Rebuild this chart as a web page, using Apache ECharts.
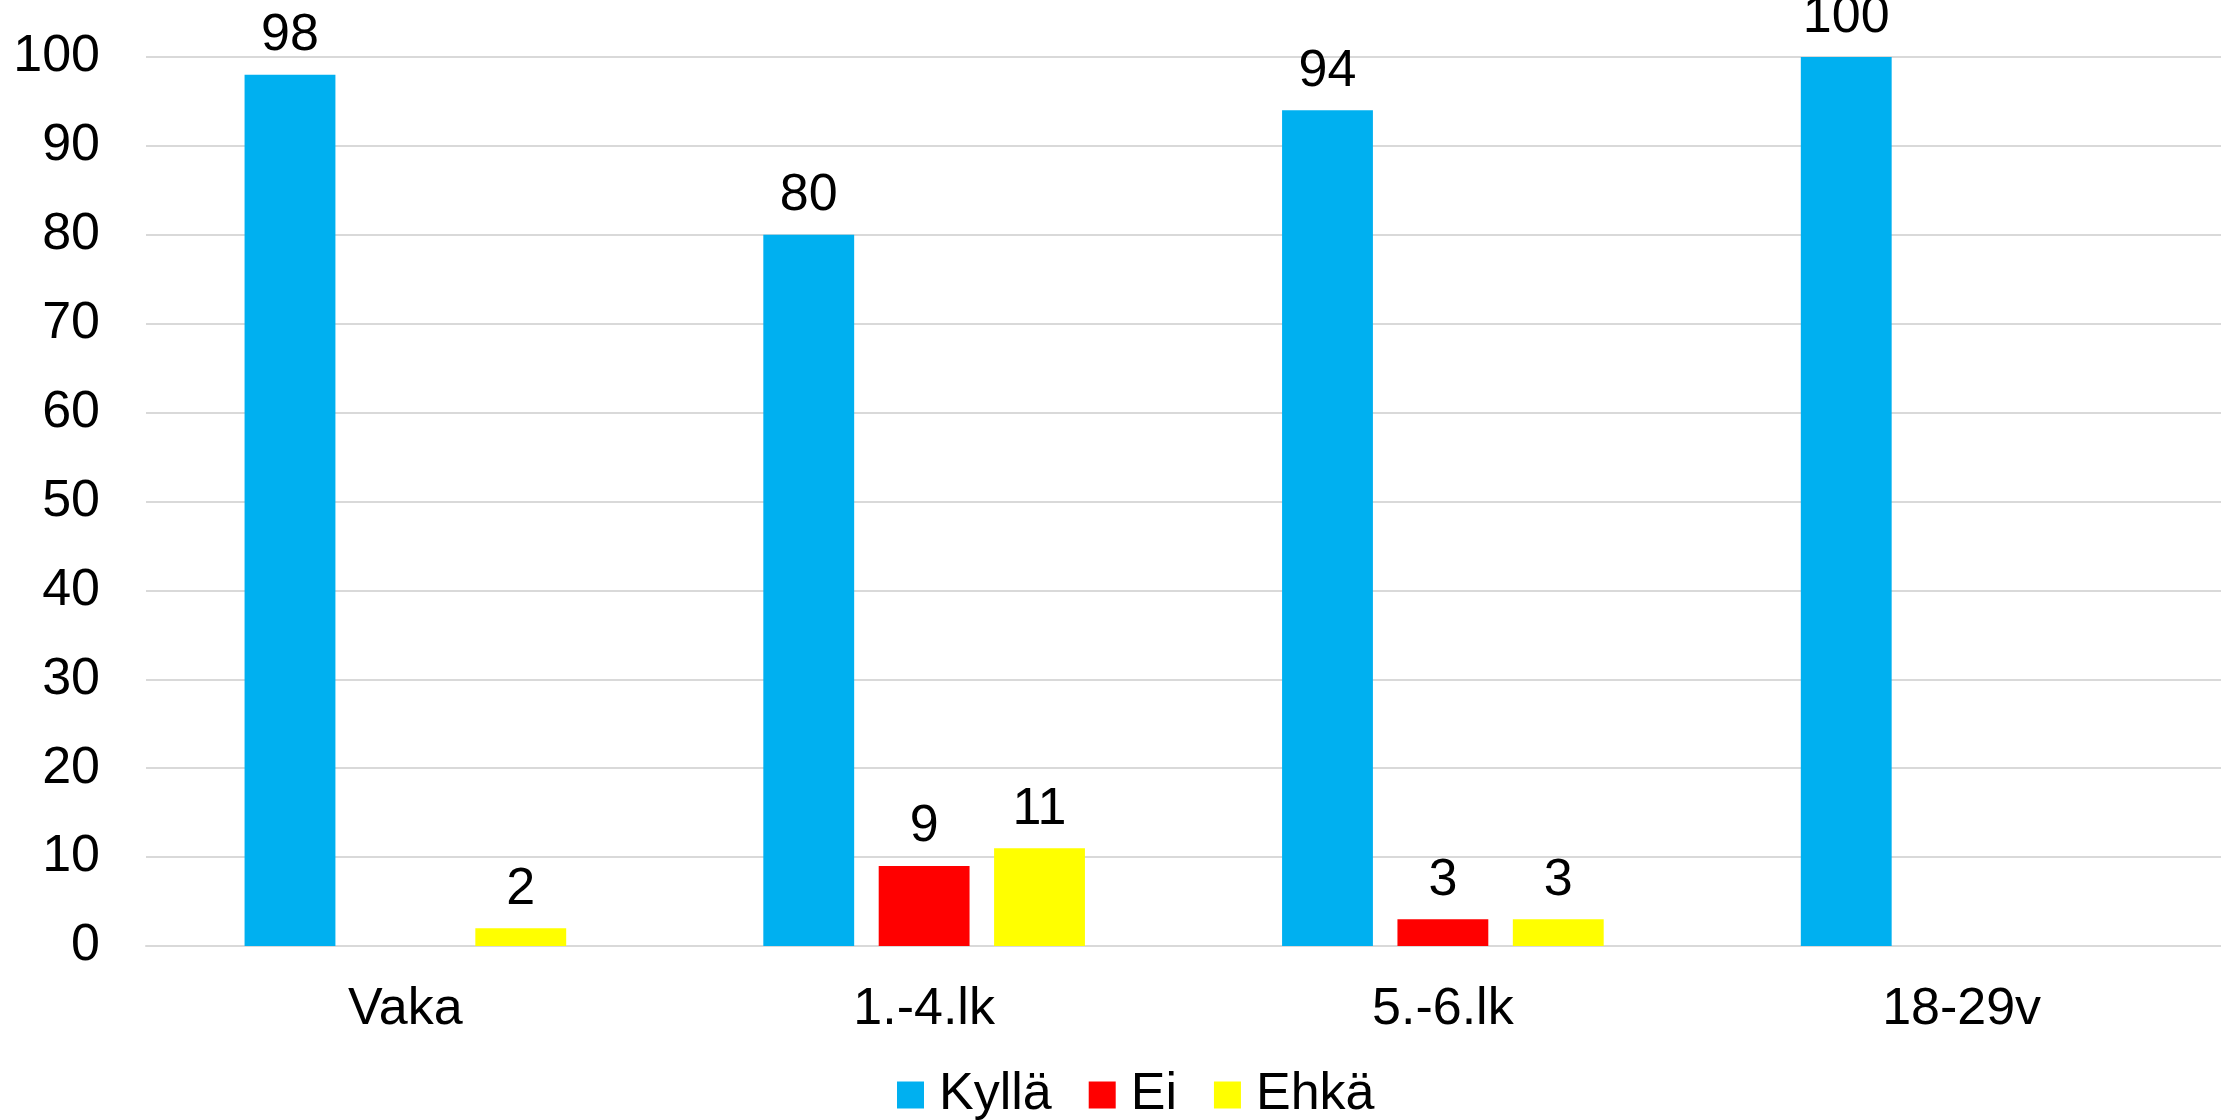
<!DOCTYPE html>
<html><head><meta charset="utf-8">
<script src="https://cdn.jsdelivr.net/npm/echarts@6/dist/echarts.min.js"></script>
<style>html,body{margin:0;padding:0;background:#fff}#c{width:2221px;height:1120px}</style>
</head><body><div id="c"></div>
<script>
const categories = ['Vaka', '1.-4.lk', '5.-6.lk', '18-29v'];
const kylla = [98, 80, 94, 100];
const ei = [null, 9, 3, null];
const ehka = [2, 11, 3, null];
const yTicks = [0, 10, 20, 30, 40, 50, 60, 70, 80, 90, 100];

const font = 'Liberation Sans, Arial, sans-serif';
const fs = 52;
const chart = echarts.init(document.getElementById('c'));
const lbl = {show: true, position: 'top', distance: 13, color: '#000', fontFamily: font, fontSize: fs};
chart.setOption({
  animation: false,
  grid: {left: 146, width: 2088, top: 57, bottom: 174, containLabel: false},
  legend: {
    bottom: -6, left: 892, itemWidth: 27, itemHeight: 27, itemGap: 37,
    icon: 'rect',
    textStyle: {fontFamily: font, fontSize: fs, color: '#000', padding: [0, 0, 0, 10]},
    data: ['Kyllä', 'Ei', 'Ehkä']
  },
  xAxis: {
    type: 'category', data: categories,
    axisLine: {show: true, lineStyle: {color: '#D9D9D9', width: 2}},
    axisTick: {show: false},
    axisLabel: {fontFamily: font, fontSize: fs, color: '#000', margin: 38}
  },
  yAxis: {
    type: 'value', min: yTicks[0], max: yTicks[yTicks.length - 1], interval: 10,
    axisLine: {show: false}, axisTick: {show: false},
    splitLine: {lineStyle: {color: '#D9D9D9', width: 2}},
    axisLabel: {fontFamily: font, fontSize: fs, color: '#000', margin: 46}
  },
  series: [
    {name: 'Kyllä', type: 'bar', data: kylla, itemStyle: {color: '#00B0F0'}, label: lbl, barGap: '27%', barCategoryGap: '38%'},
    {name: 'Ei', type: 'bar', data: ei, itemStyle: {color: '#FF0000'}, label: lbl, barGap: '27%', barCategoryGap: '38%'},
    {name: 'Ehkä', type: 'bar', data: ehka, itemStyle: {color: '#FFFF00'}, label: lbl, barGap: '27%', barCategoryGap: '38%'}
  ]
});
</script></body></html>
